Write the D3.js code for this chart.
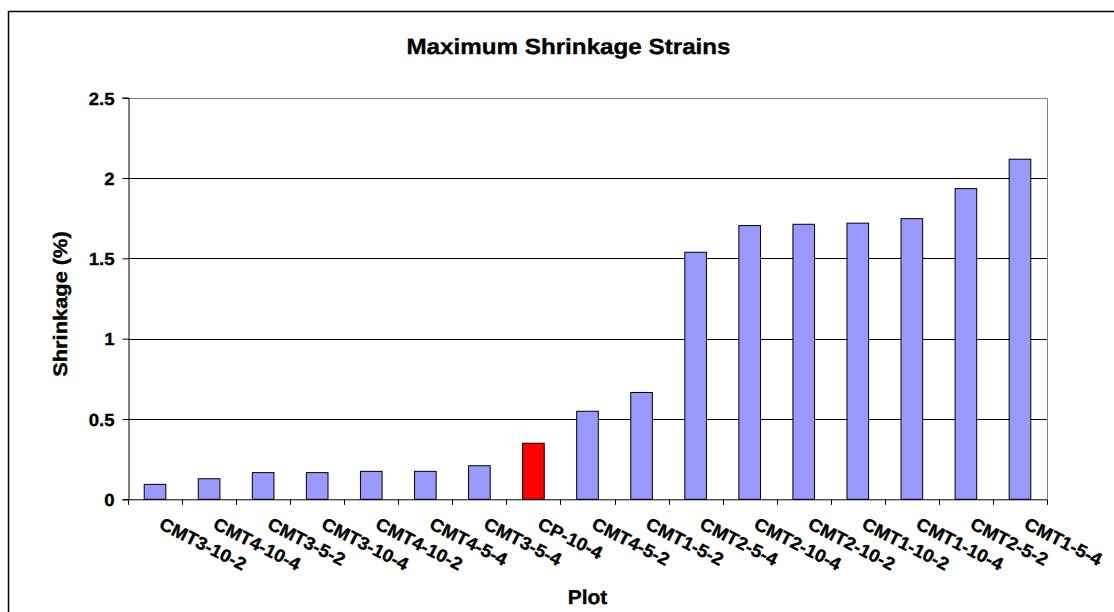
<!DOCTYPE html>
<html>
<head>
<meta charset="utf-8">
<script src="https://cdn.jsdelivr.net/npm/d3@7"></script>
<style>
  html, body { margin: 0; padding: 0; background: #fff; }
  svg { display: block; }
  text {
    font-family: "Liberation Sans", Arial, Helvetica, sans-serif;
    font-weight: bold; fill: #000;
    text-rendering: geometricPrecision;
    stroke: #000; stroke-width: 0.35px;
  }
</style>
</head>
<body>
<svg id="chart" width="1114" height="612"></svg>
<script>
// Plot names, in drawing order
const categories = ["CMT3-10-2", "CMT4-10-4", "CMT3-5-2", "CMT3-10-4", "CMT4-10-2", "CMT4-5-4",
  "CMT3-5-4", "CP-10-4", "CMT4-5-2", "CMT1-5-2", "CMT2-5-4", "CMT2-10-4", "CMT2-10-2",
  "CMT1-10-2", "CMT1-10-4", "CMT2-5-2", "CMT1-5-4"];
// Maximum shrinkage strain (%) for each plot
const shrinkage = [0.093, 0.128, 0.166, 0.166, 0.174, 0.174, 0.209, 0.349, 0.548, 0.665,
  1.538, 1.704, 1.712, 1.719, 1.747, 1.934, 2.117];
// Control plot drawn in red
const controlPlot = "CP-10-4";
const yTicks = [0, 0.5, 1, 1.5, 2, 2.5];

const titleText = "Maximum Shrinkage Strains";
const xTitleText = "Plot";
const yTitleText = "Shrinkage (%)";

const svg = d3.select("#chart");
const plot = { left: 128, right: 1047, top: 97.7, bottom: 499.3 };

// chart area border
svg.append("rect")
  .attr("x", 8.5).attr("y", 11.5)
  .attr("width", 1120).attr("height", 620)
  .attr("fill", "#fff").attr("stroke", "#000").attr("stroke-width", 1.5);

const x = d3.scaleBand()
  .domain(categories)
  .range([plot.left, plot.right])
  .paddingInner(0.6)
  .paddingOuter(0.3);

const y = d3.scaleLinear()
  .domain([0, 2.5])
  .range([plot.bottom, plot.top]);

// horizontal gridlines
svg.append("g")
  .selectAll("line")
  .data(yTicks.filter(t => t > 0 && t < 2.5))
  .join("line")
  .attr("x1", plot.left).attr("x2", plot.right)
  .attr("y1", d => Math.round(y(d)) + 0.5).attr("y2", d => Math.round(y(d)) + 0.5)
  .attr("stroke", "#000").attr("stroke-width", 1);

// plot area border (top and right)
svg.append("path")
  .attr("d", `M${plot.left},${Math.round(plot.top) + 0.5}H${plot.right + 0.5}V${plot.bottom}`)
  .attr("fill", "none").attr("stroke", "#808080").attr("stroke-width", 1);

// bars
svg.append("g")
  .selectAll("rect")
  .data(categories.map((c, i) => ({ c, v: shrinkage[i] })))
  .join("rect")
  .attr("x", d => x(d.c))
  .attr("y", d => y(d.v))
  .attr("width", x.bandwidth())
  .attr("height", d => y(0) - y(d.v))
  .attr("fill", d => d.c === controlPlot ? "#FF0000" : "#9999FF")
  .attr("stroke", "#000").attr("stroke-width", 1);

// y axis
const yAxis = svg.append("g")
  .attr("transform", `translate(${plot.left + 0.5},0)`)
  .call(d3.axisLeft(y).tickValues(yTicks).tickSize(6).tickPadding(8)
    .tickFormat(d => String(d)));
yAxis.select(".domain").attr("stroke", "#000");
yAxis.selectAll(".tick line").attr("stroke", "#000");
yAxis.selectAll(".tick text")
  .style("font-size", "17.5px")
  .attr("dy", "0.36em")
  .attr("transform", function () { return `translate(${+d3.select(this).attr("x")},0) scale(1.06,1) translate(${-d3.select(this).attr("x")},0)`; });

// x axis: ticks on category boundaries
const xAxis = svg.append("g")
  .attr("transform", `translate(0,${plot.bottom + 0.5})`);
xAxis.append("line")
  .attr("x1", plot.left).attr("x2", plot.right + 0.5)
  .attr("stroke", "#000");
const step = x.step();
xAxis.selectAll("line.tick")
  .data(d3.range(categories.length + 1))
  .join("line")
  .attr("class", "tick")
  .attr("x1", i => Math.round(plot.left + i * step) + 0.5)
  .attr("x2", i => Math.round(plot.left + i * step) + 0.5)
  .attr("y1", 0).attr("y2", 5)
  .attr("stroke", "#000");

// rotated category labels
svg.append("g")
  .selectAll("text")
  .data(categories)
  .join("text")
  .attr("transform", d => `translate(${x(d) + x.bandwidth() / 2 + 3},${528}) rotate(27) scale(1.04,1)`)
  .attr("text-anchor", "start")
  .style("font-size", "18px")
  .text(d => d);

// titles
svg.append("text")
  .attr("transform", "translate(568.5,53.5) scale(1.1,1)")
  .attr("text-anchor", "middle")
  .style("font-size", "22px")
  .text(titleText);

svg.append("text")
  .attr("transform", "translate(587.5,604) scale(1.05,1)")
  .attr("text-anchor", "middle")
  .style("font-size", "20px")
  .text(xTitleText);

svg.append("text")
  .attr("transform", "translate(67,304) rotate(-90) scale(1.12,1)")
  .attr("text-anchor", "middle")
  .style("font-size", "19.5px")
  .text(yTitleText);
</script>
</body>
</html>
